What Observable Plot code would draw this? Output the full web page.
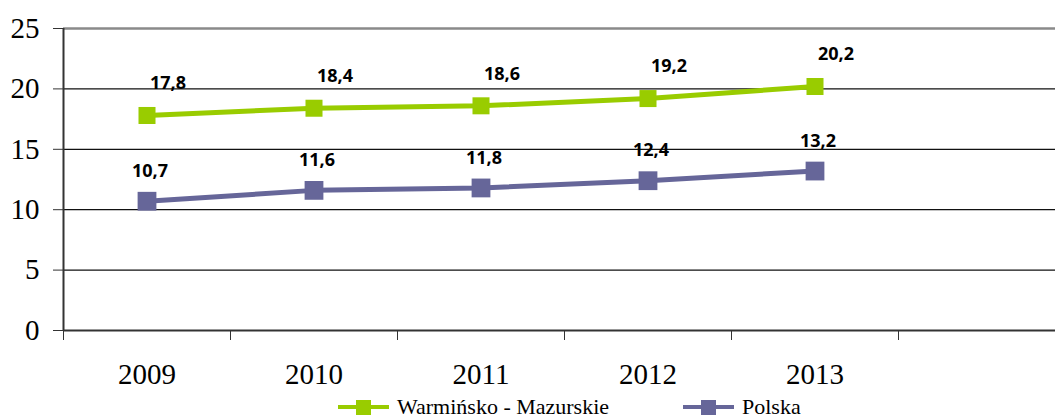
<!DOCTYPE html>
<html>
<head>
<meta charset="utf-8">
<script src="https://cdn.jsdelivr.net/npm/d3@7"></script>
<script src="https://cdn.jsdelivr.net/npm/@observablehq/plot@0.6"></script>
<style>
  html, body { margin: 0; padding: 0; background: #fff; width: 1055px; height: 419px; overflow: hidden; }
  #chart svg { display: block; }
  .serif { font-family: "Liberation Serif", "Times New Roman", Tinos, "DejaVu Serif", serif !important; }
  #chart svg g[aria-label="y-axis tick label"] text,
  #chart svg g[aria-label="x-axis tick label"] text { font-family: "Liberation Serif", "Times New Roman", Tinos, "DejaVu Serif", serif !important; font-size: 29px; }
  #legend { position: relative; height: 24px; font-size: 22px; color: #000; }
  .item { position: absolute; top: 0; display: flex; align-items: center; height: 24px; }
  .item svg { margin-right: 8px; }
</style>
</head>
<body>
<div id="chart"></div>
<div id="legend" class="serif"></div>
<script>
const years = [2009, 2010, 2011, 2012, 2013];
const seriesNames = ["Warmińsko - Mazurskie", "Polska"];
const warminsko = [17.8, 18.4, 18.6, 19.2, 20.2];
const polska = [10.7, 11.6, 11.8, 12.4, 13.2];
const yTicks = [0, 5, 10, 15, 20, 25];
const colors = ["#99cc00", "#666699"];

const rows = [];
years.forEach((yr, i) => {
  rows.push({year: yr, value: warminsko[i], series: seriesNames[0]});
  rows.push({year: yr, value: polska[i], series: seriesNames[1]});
});
const green = rows.filter(d => d.series === seriesNames[0]);
const purple = rows.filter(d => d.series === seriesNames[1]);
const boundaries = years.map(y => y - 0.5).concat([years[years.length - 1] + 0.5]);
const fmt = v => v.toFixed(1).replace(".", ",");

const chart = Plot.plot({
  width: 1055,
  height: 395,
  marginLeft: 63,
  marginRight: 0,
  marginTop: 28,
  marginBottom: 65,
  style: {fontFamily: "'Liberation Serif', 'Times New Roman', Tinos, 'DejaVu Serif', serif", background: "#fff"},
  x: {type: "linear", domain: [years[0] - 0.5, years[years.length - 1] + 1.5], range: [63, 1065]},
  y: {domain: [0, 25], range: [330, 28]},
  marks: [
    Plot.ruleY(yTicks.filter(t => t > 0 && t < 25), {stroke: "#111", strokeWidth: 1.2}),
    Plot.ruleY([25], {stroke: "#8a8a8a", strokeWidth: 2.5}),
    Plot.ruleY([0], {stroke: "#333", strokeWidth: 2}),
    Plot.ruleX([years[0] - 0.5], {y1: 0, y2: 25, stroke: "#333", strokeWidth: 2}),
    Plot.axisY({ticks: yTicks, tickSize: 10, tickPadding: 14, label: null, fontSize: 29,
      tickFormat: d => String(d), stroke: "#333", fill: "#000"}),
    Plot.axisX({ticks: boundaries, tickSize: 10, tickFormat: () => "", label: null, stroke: "#333"}),
    Plot.axisX({ticks: years, tickSize: 0, tickPadding: 33, label: null, fontSize: 29,
      tickFormat: d => String(d), fill: "#000"}),
    Plot.line(green, {x: "year", y: "value", stroke: colors[0], strokeWidth: 5}),
    Plot.line(purple, {x: "year", y: "value", stroke: colors[1], strokeWidth: 5}),
    Plot.dot(green, {x: "year", y: "value", symbol: "square", r: 9.6, fill: colors[0], stroke: "none"}),
    Plot.dot(purple, {x: "year", y: "value", symbol: "square", r: 10.6, fill: colors[1], stroke: "none"}),
    Plot.text(green, {x: "year", y: "value", text: d => fmt(d.value), dx: 21, dy: -32,
      fontFamily: "Open Sans", fontWeight: "bold", fontSize: 18, fill: "#000"}),
    Plot.text(purple, {x: "year", y: "value", text: d => fmt(d.value), dx: 3, dy: -30,
      fontFamily: "Open Sans", fontWeight: "bold", fontSize: 18, fill: "#000"})
  ]
});
document.getElementById("chart").appendChild(chart);

// Legend
const legend = document.getElementById("legend");
const lefts = [338, 683];
seriesNames.forEach((name, i) => {
  const item = document.createElement("div");
  item.className = "item";
  item.style.left = lefts[i] + "px";
  const ns = "http://www.w3.org/2000/svg";
  const sw = document.createElementNS(ns, "svg");
  sw.setAttribute("width", 51);
  sw.setAttribute("height", 18);
  const ln = document.createElementNS(ns, "line");
  ln.setAttribute("x1", 0); ln.setAttribute("x2", 51);
  ln.setAttribute("y1", 9); ln.setAttribute("y2", 9);
  ln.setAttribute("stroke", colors[i]); ln.setAttribute("stroke-width", 4);
  const sq = document.createElementNS(ns, "rect");
  sq.setAttribute("x", 18); sq.setAttribute("y", 2);
  sq.setAttribute("width", 15); sq.setAttribute("height", 15);
  sq.setAttribute("fill", colors[i]);
  sw.appendChild(ln); sw.appendChild(sq);
  const label = document.createElement("span");
  label.textContent = name;
  item.appendChild(sw);
  item.appendChild(label);
  legend.appendChild(item);
});
</script>
</body>
</html>
